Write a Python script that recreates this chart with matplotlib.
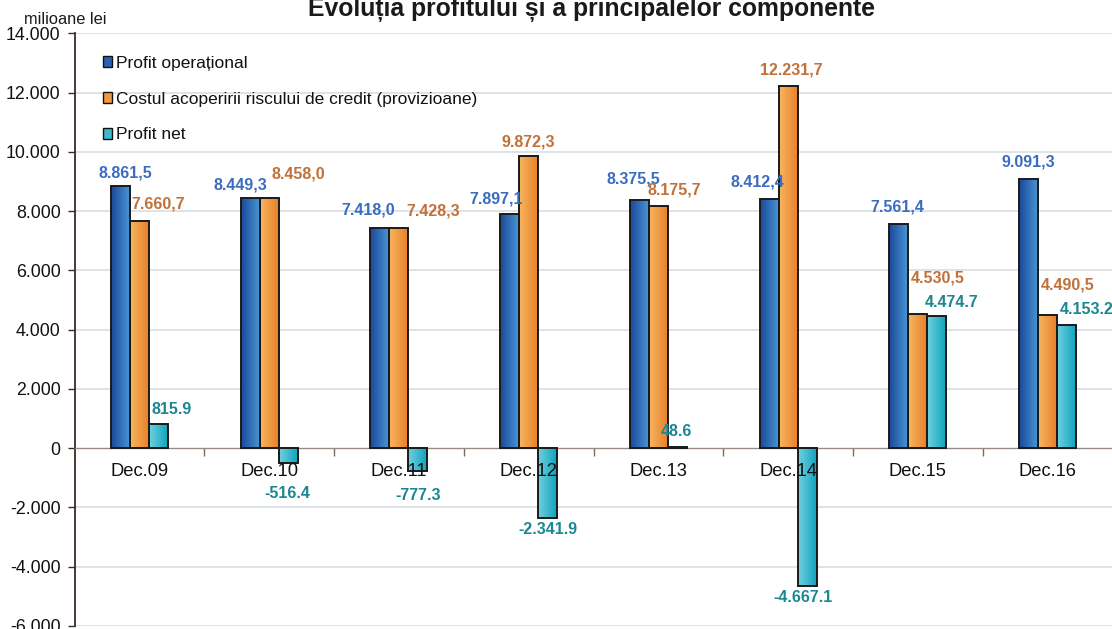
import matplotlib
matplotlib.use('Agg')
import matplotlib.pyplot as plt
import numpy as np
from matplotlib.colors import LinearSegmentedColormap
from matplotlib.patches import Patch

# ---------------- data ----------------
categories = ['Dec.09', 'Dec.10', 'Dec.11', 'Dec.12', 'Dec.13', 'Dec.14', 'Dec.15', 'Dec.16']
profit_operational = [8861.5, 8449.3, 7418.0, 7897.1, 8375.5, 8412.4, 7561.4, 9091.3]
cost_risc_credit = [7660.7, 8458.0, 7428.3, 9872.3, 8175.7, 12231.7, 4530.5, 4490.5]
profit_net = [815.9, -516.4, -777.3, -2341.9, 48.6, -4667.1, 4474.7, 4153.2]

labels_operational = ['8.861,5', '8.449,3', '7.418,0', '7.897,1', '8.375,5', '8.412,4', '7.561,4', '9.091,3']
labels_cost = ['7.660,7', '8.458,0', '7.428,3', '9.872,3', '8.175,7', '12.231,7', '4.530,5', '4.490,5']
labels_net = ['815.9', '-516.4', '-777.3', '-2.341.9', '48.6', '-4.667.1', '4.474.7', '4.153.2']

series_names = ['Profit operațional', 'Costul acoperirii riscului de credit (provizioane)', 'Profit net']
ytick_values = [-6000, -4000, -2000, 0, 2000, 4000, 6000, 8000, 10000, 12000, 14000]
ytick_labels = ['-6.000', '-4.000', '-2.000', '0', '2.000', '4.000', '6.000', '8.000', '10.000', '12.000', '14.000']
title = 'Evoluția profitului și a principalelor componente'
unit_label = 'milioane lei'

# ---------------- label offsets (pixels, relative to bar end) ----------------
off_operational = [(5, 13), (-10, 13), (-12, 18), (-14, 15), (-6, 21), (-12, 17), (-2, 17), (0, 17)]
off_cost = [(19, 17), (29, 24), (34, 17), (0, 13.5), (16, 15.5), (3, 16), (20, 36), (20, 30)]
off_net = [(13, 15), (-1, -30), (0, -24), (0, -12), (-1, 15), (-4, -11), (15, 13), (20, 15.5)]

# ---------------- styles ----------------
SANS = ['Liberation Sans', 'DejaVu Sans']

grad_colors = [('#1b4898', '#4795d6'), ('#f7b660', '#e8802a'), ('#6fd0de', '#11a4bd')]
legend_colors = ['#2a62b3', '#f09a3e', '#3cbace']
label_colors = ['#3a6cc0', '#c0713a', '#1b8791']

fig = plt.figure(figsize=(11.12, 6.29), dpi=100)
ax = fig.add_axes([74.5 / 1112, 3 / 629, 1038 / 1112, 592.7 / 629])

x = np.arange(len(categories))
width = 0.146
series = [profit_operational, cost_risc_credit, profit_net]
all_labels = [labels_operational, labels_cost, labels_net]
all_offsets = [off_operational, off_cost, off_net]

ax.set_xlim(-0.5, len(categories) - 0.5)
ax.set_ylim(-6000, 14000)

grad = np.linspace(0, 1, 64).reshape(1, -1)
for s, vals in enumerate(series):
    xs = x + (s - 1) * width
    bars = ax.bar(xs, vals, width=width, facecolor='none', edgecolor='#1a1a1a',
                  linewidth=1.4, zorder=3)
    cmap = LinearSegmentedColormap.from_list('g%d' % s, list(grad_colors[s]))
    for b in bars:
        bx, by = b.get_x(), b.get_y()
        bw, bh = b.get_width(), b.get_height()
        im = ax.imshow(grad, extent=[bx, bx + bw, by, by + bh], aspect='auto',
                       cmap=cmap, zorder=2.9, interpolation='bilinear')
        im.set_clip_path(b)
    for i, v in enumerate(vals):
        dx, dy = all_offsets[s][i]
        ax.annotate(all_labels[s][i], xy=(xs[i], v), xytext=(dx, dy),
                    textcoords='offset pixels', ha='center', va='center',
                    fontsize=11.5, fontweight='bold', color=label_colors[s],
                    family=SANS, zorder=5, annotation_clip=False)

ax.set_xlim(-0.5, len(categories) - 0.5)
ax.set_ylim(-6000, 14000)

# category labels (drawn on top of bars, as in the reference)
for i, c in enumerate(categories):
    ax.annotate(c, xy=(x[i], 0), xytext=(0, -23.5), textcoords='offset pixels',
                ha='center', va='center', fontsize=13.2, family=SANS, color='#111111',
                zorder=6)

# axes styling
ax.set_yticks(ytick_values)
ax.set_yticklabels(ytick_labels, family=SANS, fontsize=12.8, color='#111111')
ax.set_xticks(np.arange(0.5, len(categories), 1.0))
ax.set_xticklabels([])
ax.tick_params(axis='y', direction='out', length=5, width=1, color='#3a2a26', pad=5)
ax.tick_params(axis='x', direction='out', length=6, width=1, color='#7a6a64')

ax.spines['top'].set_visible(False)
ax.spines['right'].set_visible(False)
ax.spines['left'].set_color('#3a2a26')
ax.spines['left'].set_linewidth(1.3)
ax.spines['bottom'].set_position(('data', 0))
ax.spines['bottom'].set_color('#9a8a84')
ax.spines['bottom'].set_linewidth(1.0)

for yv in ytick_values:
    if yv != 0:
        ax.axhline(yv, color='#dde3e8', linewidth=1.4, zorder=0)

# legend
handles = [Patch(facecolor=legend_colors[k], edgecolor='#111111', linewidth=1.0)
           for k in range(3)]
leg = ax.legend(handles, series_names, loc='upper left', bbox_to_anchor=(0.027, 0.962),
                frameon=False, borderaxespad=0, borderpad=0, handlelength=0.55,
                handleheight=0.55, handletextpad=0.25, labelspacing=1.2,
                prop={'family': SANS, 'size': 12.5})
for t in leg.get_texts():
    t.set_color('#111111')

# title and unit
fig.text(591 / 1112, 1 - 16.5 / 629, title, ha='center', va='baseline',
         fontsize=17.8, fontweight='bold', family=SANS, color='#1a1a1a')
fig.text(24 / 1112, 1 - 24 / 629, unit_label, ha='left', va='baseline',
         fontsize=11.8, family=SANS, color='#1a1a1a')

fig.savefig('out.png', dpi=100)
